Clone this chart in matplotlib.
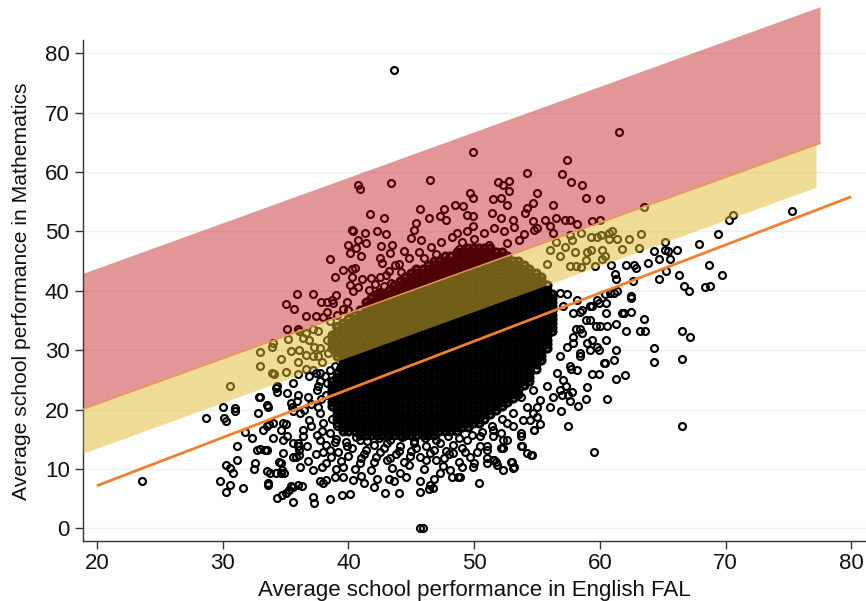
import matplotlib
matplotlib.use("Agg")
import matplotlib.pyplot as plt

# ---------------- data ----------------
x_ticks = [20, 30, 40, 50, 60, 70, 80]
y_ticks = [0, 10, 20, 30, 40, 50, 60, 70, 80]
x_label = "Average school performance in English FAL"
y_label = "Average school performance in Mathematics"

fit_x = [20, 80]
fit_y = [7.19, 55.85]

red_x = [18.886, 77.51]
red_top = [42.95, 87.84]
red_bottom = [20.1, 64.84]
yellow_x = [18.886, 77.19]
yellow_top = [20.1, 64.6]
yellow_bottom = [12.65, 57.43]

# dense (saturated, heavily over-plotted) core of the cloud: y value -> x values
core_rows = {
    15.7: "40.9 41.4 41.8 42.3 42.7 43.2 43.6 44.1 44.5 45.0 45.4 45.9 46.3 46.8",
    16.4: "39.6 40.0 40.5 40.9 41.4 41.8 42.3 42.7 43.2 43.6 44.1 44.5 45.0 45.4 45.9 46.3 46.8 47.2 47.7 48.1 48.6",
    17.1: "39.6 40.0 40.5 40.9 41.4 41.8 42.3 42.7 43.2 43.6 44.1 44.5 45.0 45.4 45.9 46.3 46.8 47.2 47.7 48.1 48.6 49.0 49.5",
    17.8: "39.1 39.6 40.0 40.5 40.9 41.4 41.8 42.3 42.7 43.2 43.6 44.1 44.5 45.0 45.4 45.9 46.3 46.8 47.2 47.7 48.1 48.6 49.0 49.5 49.9 50.4",
    18.5: "39.1 39.6 40.0 40.5 40.9 41.4 41.8 42.3 42.7 43.2 43.6 44.1 44.5 45.0 45.4 45.9 46.3 46.8 47.2 47.7 48.1 48.6 49.0 49.5 49.9 50.4 50.8",
    19.2: "39.1 39.6 40.0 40.5 40.9 41.4 41.8 42.3 42.7 43.2 43.6 44.1 44.5 45.0 45.4 45.9 46.3 46.8 47.2 47.7 48.1 48.6 49.0 49.5 49.9 50.4 50.8 51.3",
    19.9: "39.1 39.6 40.0 40.5 40.9 41.4 41.8 42.3 42.7 43.2 43.6 44.1 44.5 45.0 45.4 45.9 46.3 46.8 47.2 47.7 48.1 48.6 49.0 49.5 49.9 50.4 50.8 51.3 51.7",
    20.6: "38.7 39.1 39.6 40.0 40.5 40.9 41.4 41.8 42.3 42.7 43.2 43.6 44.1 44.5 45.0 45.4 45.9 46.3 46.8 47.2 47.7 48.1 48.6 49.0 49.5 49.9 50.4 50.8 51.3 51.7 52.2",
    21.3: "38.7 39.1 39.6 40.0 40.5 40.9 41.4 41.8 42.3 42.7 43.2 43.6 44.1 44.5 45.0 45.4 45.9 46.3 46.8 47.2 47.7 48.1 48.6 49.0 49.5 49.9 50.4 50.8 51.3 51.7 52.2 52.6",
    22.0: "38.7 39.1 39.6 40.0 40.5 40.9 41.4 41.8 42.3 42.7 43.2 43.6 44.1 44.5 45.0 45.4 45.9 46.3 46.8 47.2 47.7 48.1 48.6 49.0 49.5 49.9 50.4 50.8 51.3 51.7 52.2 52.6 53.1",
    22.7: "38.7 39.1 39.6 40.0 40.5 40.9 41.4 41.8 42.3 42.7 43.2 43.6 44.1 44.5 45.0 45.4 45.9 46.3 46.8 47.2 47.7 48.1 48.6 49.0 49.5 49.9 50.4 50.8 51.3 51.7 52.2 52.6 53.1 53.5",
    23.4: "38.7 39.1 39.6 40.0 40.5 40.9 41.4 41.8 42.3 42.7 43.2 43.6 44.1 44.5 45.0 45.4 45.9 46.3 46.8 47.2 47.7 48.1 48.6 49.0 49.5 49.9 50.4 50.8 51.3 51.7 52.2 52.6 53.1 53.5",
    24.1: "38.7 39.1 39.6 40.0 40.5 40.9 41.4 41.8 42.3 42.7 43.2 43.6 44.1 44.5 45.0 45.4 45.9 46.3 46.8 47.2 47.7 48.1 48.6 49.0 49.5 49.9 50.4 50.8 51.3 51.7 52.2 52.6 53.1 53.5 54.0",
    24.8: "38.7 39.1 39.6 40.0 40.5 40.9 41.4 41.8 42.3 42.7 43.2 43.6 44.1 44.5 45.0 45.4 45.9 46.3 46.8 47.2 47.7 48.1 48.6 49.0 49.5 49.9 50.4 50.8 51.3 51.7 52.2 52.6 53.1 53.5 54.0 54.4",
    25.5: "39.1 39.6 40.0 40.5 40.9 41.4 41.8 42.3 42.7 43.2 43.6 44.1 44.5 45.0 45.4 45.9 46.3 46.8 47.2 47.7 48.1 48.6 49.0 49.5 49.9 50.4 50.8 51.3 51.7 52.2 52.6 53.1 53.5 54.0 54.4",
    26.2: "39.1 39.6 40.0 40.5 40.9 41.4 41.8 42.3 42.7 43.2 43.6 44.1 44.5 45.0 45.4 45.9 46.3 46.8 47.2 47.7 48.1 48.6 49.0 49.5 49.9 50.4 50.8 51.3 51.7 52.2 52.6 53.1 53.5 54.0 54.4",
    26.9: "39.6 40.0 40.5 40.9 41.4 41.8 42.3 42.7 43.2 43.6 44.1 44.5 45.0 45.4 45.9 46.3 46.8 47.2 47.7 48.1 48.6 49.0 49.5 49.9 50.4 50.8 51.3 51.7 52.2 52.6 53.1 53.5 54.0 54.4 54.9",
    27.6: "39.6 40.0 40.5 40.9 41.4 41.8 42.3 42.7 43.2 43.6 44.1 44.5 45.0 45.4 45.9 46.3 46.8 47.2 47.7 48.1 48.6 49.0 49.5 49.9 50.4 50.8 51.3 51.7 52.2 52.6 53.1 53.5 54.0 54.4 54.9",
    28.3: "39.6 40.0 40.5 40.9 41.4 41.8 42.3 42.7 43.2 43.6 44.1 44.5 45.0 45.4 45.9 46.3 46.8 47.2 47.7 48.1 48.6 49.0 49.5 49.9 50.4 50.8 51.3 51.7 52.2 52.6 53.1 53.5 54.0 54.4 54.9 55.3",
    29.0: "39.1 39.6 40.0 40.5 40.9 41.4 41.8 42.3 42.7 43.2 43.6 44.1 44.5 45.0 45.4 45.9 46.3 46.8 47.2 47.7 48.1 48.6 49.0 49.5 49.9 50.4 50.8 51.3 51.7 52.2 52.6 53.1 53.5 54.0 54.4 54.9 55.3",
    29.7: "39.1 39.6 40.0 40.5 40.9 41.4 41.8 42.3 42.7 43.2 43.6 44.1 44.5 45.0 45.4 45.9 46.3 46.8 47.2 47.7 48.1 48.6 49.0 49.5 49.9 50.4 50.8 51.3 51.7 52.2 52.6 53.1 53.5 54.0 54.4 54.9 55.3",
    30.4: "38.7 39.1 39.6 40.0 40.5 40.9 41.4 41.8 42.3 42.7 43.2 43.6 44.1 44.5 45.0 45.4 45.9 46.3 46.8 47.2 47.7 48.1 48.6 49.0 49.5 49.9 50.4 50.8 51.3 51.7 52.2 52.6 53.1 53.5 54.0 54.4 54.9 55.3 55.8",
    31.1: "38.7 39.1 39.6 40.0 40.5 40.9 41.4 41.8 42.3 42.7 43.2 43.6 44.1 44.5 45.0 45.4 45.9 46.3 46.8 47.2 47.7 48.1 48.6 49.0 49.5 49.9 50.4 50.8 51.3 51.7 52.2 52.6 53.1 53.5 54.0 54.4 54.9 55.3 55.8",
    31.8: "38.7 39.1 39.6 40.0 40.5 40.9 41.4 41.8 42.3 42.7 43.2 43.6 44.1 44.5 45.0 45.4 45.9 46.3 46.8 47.2 47.7 48.1 48.6 49.0 49.5 49.9 50.4 50.8 51.3 51.7 52.2 52.6 53.1 53.5 54.0 54.4 54.9 55.3 55.8",
    32.5: "38.7 39.1 39.6 40.0 40.5 40.9 41.4 41.8 42.3 42.7 43.2 43.6 44.1 44.5 45.0 45.4 45.9 46.3 46.8 47.2 47.7 48.1 48.6 49.0 49.5 49.9 50.4 50.8 51.3 51.7 52.2 52.6 53.1 53.5 54.0 54.4 54.9 55.3 55.8",
    33.2: "39.1 39.6 40.0 40.5 40.9 41.4 41.8 42.3 42.7 43.2 43.6 44.1 44.5 45.0 45.4 45.9 46.3 46.8 47.2 47.7 48.1 48.6 49.0 49.5 49.9 50.4 50.8 51.3 51.7 52.2 52.6 53.1 53.5 54.0 54.4 54.9 55.3 55.8 56.2",
    33.9: "39.1 39.6 40.0 40.5 40.9 41.4 41.8 42.3 42.7 43.2 43.6 44.1 44.5 45.0 45.4 45.9 46.3 46.8 47.2 47.7 48.1 48.6 49.0 49.5 49.9 50.4 50.8 51.3 51.7 52.2 52.6 53.1 53.5 54.0 54.4 54.9 55.3 55.8 56.2",
    34.6: "39.6 40.0 40.5 40.9 41.4 41.8 42.3 42.7 43.2 43.6 44.1 44.5 45.0 45.4 45.9 46.3 46.8 47.2 47.7 48.1 48.6 49.0 49.5 49.9 50.4 50.8 51.3 51.7 52.2 52.6 53.1 53.5 54.0 54.4 54.9 55.3 55.8 56.2",
    35.3: "40.0 40.5 40.9 41.4 41.8 42.3 42.7 43.2 43.6 44.1 44.5 45.0 45.4 45.9 46.3 46.8 47.2 47.7 48.1 48.6 49.0 49.5 49.9 50.4 50.8 51.3 51.7 52.2 52.6 53.1 53.5 54.0 54.4 54.9 55.3 55.8 56.2",
    36.0: "40.5 40.9 41.4 41.8 42.3 42.7 43.2 43.6 44.1 44.5 45.0 45.4 45.9 46.3 46.8 47.2 47.7 48.1 48.6 49.0 49.5 49.9 50.4 50.8 51.3 51.7 52.2 52.6 53.1 53.5 54.0 54.4 54.9 55.3 55.8 56.2",
    36.7: "40.9 41.4 41.8 42.3 42.7 43.2 43.6 44.1 44.5 45.0 45.4 45.9 46.3 46.8 47.2 47.7 48.1 48.6 49.0 49.5 49.9 50.4 50.8 51.3 51.7 52.2 52.6 53.1 53.5 54.0 54.4 54.9 55.3 55.8 56.2",
    37.4: "41.4 41.8 42.3 42.7 43.2 43.6 44.1 44.5 45.0 45.4 45.9 46.3 46.8 47.2 47.7 48.1 48.6 49.0 49.5 49.9 50.4 50.8 51.3 51.7 52.2 52.6 53.1 53.5 54.0 54.4 54.9 55.3 55.8 56.2",
    38.1: "41.4 41.8 42.3 42.7 43.2 43.6 44.1 44.5 45.0 45.4 45.9 46.3 46.8 47.2 47.7 48.1 48.6 49.0 49.5 49.9 50.4 50.8 51.3 51.7 52.2 52.6 53.1 53.5 54.0 54.4 54.9 55.3 55.8 56.2",
    38.8: "41.8 42.3 42.7 43.2 43.6 44.1 44.5 45.0 45.4 45.9 46.3 46.8 47.2 47.7 48.1 48.6 49.0 49.5 49.9 50.4 50.8 51.3 51.7 52.2 52.6 53.1 53.5 54.0 54.4 54.9 55.3 55.8 56.2",
    39.5: "42.3 42.7 43.2 43.6 44.1 44.5 45.0 45.4 45.9 46.3 46.8 47.2 47.7 48.1 48.6 49.0 49.5 49.9 50.4 50.8 51.3 51.7 52.2 52.6 53.1 53.5 54.0 54.4 54.9 55.3 55.8 56.2",
    40.2: "43.2 43.6 44.1 44.5 45.0 45.4 45.9 46.3 46.8 47.2 47.7 48.1 48.6 49.0 49.5 49.9 50.4 50.8 51.3 51.7 52.2 52.6 53.1 53.5 54.0 54.4 54.9 55.3 55.8",
    40.9: "43.6 44.1 44.5 45.0 45.4 45.9 46.3 46.8 47.2 47.7 48.1 48.6 49.0 49.5 49.9 50.4 50.8 51.3 51.7 52.2 52.6 53.1 53.5 54.0 54.4 54.9 55.3 55.8",
    41.6: "44.1 44.5 45.0 45.4 45.9 46.3 46.8 47.2 47.7 48.1 48.6 49.0 49.5 49.9 50.4 50.8 51.3 51.7 52.2 52.6 53.1 53.5 54.0 54.4 54.9 55.3",
    42.3: "44.5 45.0 45.4 45.9 46.3 46.8 47.2 47.7 48.1 48.6 49.0 49.5 49.9 50.4 50.8 51.3 51.7 52.2 52.6 53.1 53.5 54.0 54.4 54.9 55.3",
    43.0: "45.0 45.4 45.9 46.3 46.8 47.2 47.7 48.1 48.6 49.0 49.5 49.9 50.4 50.8 51.3 51.7 52.2 52.6 53.1 53.5 54.0 54.4 54.9",
    43.7: "45.4 45.9 46.3 46.8 47.2 47.7 48.1 48.6 49.0 49.5 49.9 50.4 50.8 51.3 51.7 52.2 52.6 53.1 53.5 54.0 54.4",
    44.4: "46.3 46.8 47.2 47.7 48.1 48.6 49.0 49.5 49.9 50.4 50.8 51.3 51.7 52.2 52.6 53.1 53.5 54.0",
    45.1: "46.8 47.2 47.7 48.1 48.6 49.0 49.5 49.9 50.4 50.8 51.3 51.7 52.2 52.6 53.1 53.5",
    45.8: "47.7 48.1 48.6 49.0 49.5 49.9 50.4 50.8 51.3 51.7 52.2 52.6",
    46.5: "48.6 49.0 49.5 49.9 50.4 50.8 51.3 51.7 52.2",
    47.2: "49.5 49.9 50.4 50.8 51.3",
}

# scattered schools outside the saturated core
low_left = [
    (23.6, 7.9), (28.7, 18.6), (30.05, 20.5), (30.1, 18.6), (30.3, 18.0), (31.0, 19.8), (29.8, 7.9),
    (30.3, 10.6), (30.6, 10.1), (30.8, 9.3), (30.3, 6.2), (30.6, 7.3), (31.6, 6.8), (31.1, 11.6),
    (31.1, 13.9), (31.8, 16.3), (32.3, 15.2), (32.6, 11.0), (32.5, 10.0), (32.8, 19.4), (32.9, 22.1),
    (32.7, 13.2), (33.0, 13.3), (33.4, 13.2), (33.5, 9.6), (33.6, 7.3), (33.6, 20.4), (33.5, 17.2),
    (33.7, 17.5), (34.0, 15.2), (34.2, 23.6), (34.3, 22.9), (34.2, 9.3), (34.6, 9.3), (34.3, 5.1),
    (34.7, 5.6), (35.0, 5.9), (34.5, 11.1), (35.0, 17.5), (34.8, 14.9), (35.3, 6.5), (35.6, 7.0),
    (35.6, 4.5), (35.6, 24.5), (35.5, 20.5), (35.6, 19.8), (35.6, 12.1), (36.0, 13.8), (36.1, 12.3),
    (36.0, 7.3), (33.6, 7.6), (34.6, 11.0), (34.9, 9.4), (35.4, 7.2), (36.3, 7.2), (36.0, 14.3),
    (36.1, 13.2), (35.8, 12.1), (34.8, 17.7), (33.0, 22.2), (34.3, 23.9), (35.1, 22.8), (36.9, 25.6),
    (37.4, 26.2), (37.6, 23.9), (31.0, 20.3), (33.5, 20.8), (35.4, 21.1), (35.9, 21.4), (33.8, 9.3),
    (34.7, 9.8), (36.15, 10.4), (37.2, 9.8), (34.6, 16.6), (35.1, 15.5), (34.0, 17.7), (33.2, 16.6),
    (33.5, 13.2), (34.8, 12.7), (35.6, 14.4), (36.7, 13.8), (36.4, 16.6), (36.9, 18.3), (36.15, 19.4),
    (37.7, 19.4), (36.8, 22.2), (37.5, 23.3), (38.3, 24.5), (37.7, 26.2), (37.2, 26.7), (38.5, 26.7),
    (36.5, 20.0), (37.0, 21.0), (36.0, 22.5), (37.8, 21.8), (37.0, 17.2), (38.0, 17.8), (36.4, 15.5),
    (37.5, 15.8), (38.2, 14.0), (37.4, 12.5), (38.6, 12.0), (39.2, 12.8), (36.8, 11.3), (37.9, 10.3),
    (39.0, 10.0), (38.2, 11.0), (37.7, 14.9), (38.5, 16.0), (39.1, 17.2), (38.5, 13.2), (38.9, 27.3),
    (39.3, 27.0),
]

bottom = [
    (37.3, 4.2), (37.2, 5.3), (38.5, 5.0), (39.5, 5.6), (40.1, 5.8), (42.9, 5.9), (44.0, 5.9),
    (45.7, 6.2), (46.4, 6.6), (46.7, 6.8), (50.4, 7.6), (48.7, 8.7), (48.2, 8.7), (53.2, 10.4),
    (52.9, 11.1), (54.2, 12.7), (54.6, 12.4), (53.7, 13.8), (52.3, 13.5), (54.8, 16.6), (45.7, 0.0),
    (45.9, 0.0), (37.7, 7.9), (38.0, 7.6), (38.2, 8.2), (38.9, 8.7), (39.6, 8.7), (40.4, 8.2),
    (41.2, 7.6), (42.0, 7.0), (42.3, 8.4), (43.2, 8.4), (43.6, 7.9), (44.1, 9.3), (44.6, 8.7),
    (45.7, 7.9), (46.5, 7.3), (46.8, 8.4), (47.3, 9.3), (48.1, 9.8), (48.9, 8.7), (49.9, 10.4),
    (51.0, 11.0), (51.5, 11.5), (51.8, 10.7), (52.3, 9.8), (53.8, 13.8), (39.6, 10.4), (40.9, 11.0),
    (42.0, 11.2), (43.05, 11.5), (44.4, 11.2), (45.7, 12.1), (47.0, 11.5), (48.35, 12.7), (49.7, 12.1),
    (51.0, 13.2), (52.3, 14.9), (53.7, 16.0), (54.45, 18.3), (55.0, 20.5), (39.85, 13.8), (40.9, 14.9),
    (42.0, 14.1), (43.05, 14.4), (44.1, 13.8), (45.2, 14.4), (46.2, 13.8), (47.3, 14.4), (48.35, 14.1),
    (49.4, 14.9), (50.5, 15.5), (51.5, 16.6), (52.6, 17.7), (53.1, 19.4), (53.7, 22.2), (54.7, 23.3),
    (40.0, 12.2), (41.2, 12.6), (42.5, 12.8), (43.8, 12.5), (45.0, 13.0), (46.5, 12.7), (47.8, 13.0),
    (49.0, 13.5), (50.2, 12.8), (40.5, 10.0), (41.8, 9.8), (43.5, 10.2), (44.8, 10.6), (46.0, 10.0),
    (47.5, 10.5), (48.8, 11.2), (50.0, 11.0), (41.0, 8.8), (53.0, 11.1), (53.1, 10.2), (52.1, 13.6),
    (51.6, 11.5), (51.7, 11.1), (51.0, 11.8), (54.5, 12.4), (55.2, 17.6), (54.8, 16.5),
    (39.0, 15.0), (39.8, 14.6), (40.6, 15.4), (41.5, 14.8), (42.4, 15.3), (43.3, 14.9), (44.3, 15.4),
    (45.2, 14.8), (46.1, 15.3), (47.0, 14.9), (47.9, 15.6), (48.8, 15.2), (49.8, 15.8), (50.6, 16.3),
    (51.4, 17.3), (52.2, 18.5), (40.3, 13.6), (41.4, 13.2), (42.8, 13.5), (44.0, 13.0), (45.4, 13.6),
    (46.8, 13.2), (48.0, 12.6), (49.3, 12.9), (50.5, 13.8), (41.0, 11.8), (42.2, 12.0), (43.3, 11.9),
    (44.9, 12.2), (46.2, 11.6), (47.6, 11.9), (49.0, 10.3), (39.4, 11.4), (38.0, 12.8), (38.9, 14.6),
    (37.9, 16.4), (38.7, 18.4), (37.6, 20.4), (38.2, 22.4), (37.7, 24.8), (38.1, 25.7),
]

right = [
    (62.5, 38.8), (62.5, 36.4), (61.8, 36.3), (63.5, 35.3), (63.2, 33.3), (63.6, 33.3), (62.1, 33.2),
    (61.3, 30.1), (61.1, 28.3), (60.3, 27.8), (61.3, 25.2), (62.0, 25.8), (60.6, 21.8), (59.0, 23.8),
    (58.9, 21.8), (58.3, 20.6), (56.9, 19.8), (57.5, 17.3), (59.5, 12.8), (59.4, 26.0), (59.9, 26.0),
    (57.8, 22.9), (57.5, 22.5), (57.0, 22.5), (66.5, 33.3), (67.2, 32.2), (64.3, 30.3), (64.3, 28.1),
    (66.5, 28.5), (66.5, 17.3), (57.6, 21.4), (57.3, 24.0), (58.2, 26.6), (57.7, 26.8), (60.4, 27.9),
    (61.9, 36.2), (61.3, 34.5), (60.6, 34.0), (75.3, 53.4), (70.6, 52.8), (70.3, 51.9), (69.4, 49.6),
    (67.9, 47.9), (68.7, 44.3), (69.7, 42.7), (66.3, 42.7), (66.7, 40.8), (67.1, 39.9), (68.4, 40.6),
    (68.8, 40.8), (65.2, 48.3), (65.2, 46.9), (65.4, 46.7), (65.6, 45.3), (66.1, 46.9), (64.3, 46.7),
    (64.7, 45.3), (63.8, 44.7), (65.3, 43.3), (64.7, 42.0), (62.6, 41.6), (62.1, 44.4), (62.7, 44.4),
    (62.9, 43.9), (60.9, 44.4), (61.2, 42.8), (61.3, 42.0), (62.5, 39.1), (61.4, 39.9), (60.8, 39.7),
    (56.8, 39.6), (57.4, 39.4), (58.2, 38.5), (57.1, 37.4), (58.4, 36.5), (59.2, 37.4), (59.75, 38.5),
    (60.5, 38.0), (60.4, 39.4), (61.1, 39.6), (59.2, 35.1), (60.0, 34.0), (58.4, 33.5), (57.9, 32.3),
    (58.95, 31.2), (59.75, 30.6), (57.4, 30.6), (56.8, 29.0), (58.4, 29.0), (57.6, 27.3), (56.6, 26.2),
    (55.8, 23.9), (56.8, 23.3), (55.2, 21.7), (56.0, 20.5), (54.7, 19.4), (53.9, 18.3), (53.1, 17.2),
    (52.1, 16.0), (52.6, 14.9), (53.7, 15.5), (55.0, 18.8), (54.2, 20.5), (56.3, 22.2), (57.1, 25.0),
    (51.0, 13.8), (51.5, 15.5), (57.85, 36.3), (58.6, 36.8), (59.4, 37.4), (59.96, 38.0), (60.5, 36.3),
    (58.9, 35.1), (58.1, 33.5), (58.6, 32.9), (59.4, 31.8), (57.85, 31.2), (58.4, 29.5), (59.2, 30.1),
    (59.96, 30.1), (60.5, 31.8), (59.7, 34.0), (63.5, 54.1), (63.3, 49.6), (63.1, 47.2), (43.65, 77.1),
]

yellow_zone = [
    (30.6, 24.0), (33.0, 27.3), (33.0, 29.7), (33.9, 26.2), (34.0, 31.2), (35.0, 26.4), (36.0, 28.0),
    (36.1, 33.2), (34.1, 26.0), (36.0, 26.0), (33.9, 30.5), (36.6, 29.2), (37.2, 29.1), (37.6, 29.0),
    (36.6, 26.8), (37.3, 30.6), (36.1, 30.1), (36.4, 32.1), (36.9, 31.8), (36.6, 32.9), (37.2, 33.5),
    (37.6, 33.2), (38.3, 31.8), (37.75, 30.4), (38.7, 30.9), (38.5, 34.9), (39.0, 34.0), (39.5, 34.6),
    (38.9, 32.6), (39.3, 30.1), (37.9, 28.0), (38.4, 29.5), (38.0, 35.6), (39.1, 36.0), (40.0, 36.8),
    (34.6, 28.5), (35.4, 29.8), (35.2, 31.9),
    (57.6, 49.4), (57.8, 48.6), (58.5, 49.7), (59.3, 49.1), (59.8, 49.0), (60.1, 49.4), (60.75, 49.7),
    (61.0, 50.0), (61.4, 48.7), (60.75, 48.7), (58.0, 46.6), (59.0, 46.6), (59.3, 46.8), (60.2, 46.9),
    (60.4, 45.8), (58.9, 45.2), (57.6, 44.1), (58.1, 44.1), (58.5, 44.0), (59.6, 44.1), (60.2, 45.4),
    (56.8, 45.8), (56.0, 46.9), (56.5, 48.2), (55.8, 44.5), (57.2, 47.4), (61.8, 47.0), (62.3, 48.8),
]

red_zone = [
    (61.5, 66.8), (49.9, 63.3), (57.4, 62.1), (54.2, 59.8), (57.0, 59.6), (57.7, 58.4), (58.6, 57.8),
    (40.8, 57.9), (40.9, 57.1), (43.4, 58.1), (46.5, 58.6), (51.9, 58.3), (52.3, 57.8), (52.8, 58.5),
    (52.8, 56.8), (55.0, 56.4), (49.7, 56.5), (49.9, 55.7), (51.5, 55.5), (52.1, 55.7), (58.9, 55.7),
    (60.0, 55.5), (57.6, 52.0), (58.2, 51.3), (59.4, 51.8), (60.0, 52.0), (54.7, 54.8), (56.3, 54.5),
    (41.7, 53.0), (42.8, 52.3), (40.3, 50.2), (41.3, 49.8), (40.8, 48.6), (40.0, 47.8), (41.4, 48.1),
    (40.6, 47.2), (40.1, 46.4), (41.0, 45.8), (38.5, 45.4), (38.9, 42.4), (39.6, 43.5), (40.3, 43.7),
    (40.5, 43.9), (37.2, 39.5), (45.7, 53.8), (46.4, 52.3), (45.4, 51.4), (45.2, 50.3), (45.0, 48.9),
    (45.8, 48.6), (42.6, 47.5), (43.3, 46.3), (42.5, 45.5), (44.4, 46.7), (47.6, 53.7), (47.3, 52.6),
    (47.8, 52.0), (48.5, 54.5), (49.1, 54.3), (49.4, 52.8), (49.9, 52.6), (49.9, 51.0), (49.4, 50.0),
    (48.6, 49.8), (52.6, 54.5), (51.4, 53.1), (52.1, 52.3), (53.1, 52.0), (54.05, 53.1), (54.2, 54.0),
    (54.7, 51.7), (56.0, 50.9), (56.5, 52.3), (57.2, 52.0), (55.0, 50.6), (56.3, 49.8), (40.4, 50.0),
    (42.3, 50.0), (43.0, 49.6), (43.5, 47.8), (40.3, 42.4), (40.1, 41.0), (40.4, 39.9), (35.9, 39.5),
    (35.0, 37.7), (35.7, 37.0), (37.8, 38.1), (38.3, 38.1), (38.7, 38.5), (38.8, 38.0), (39.9, 38.2),
    (39.6, 37.0), (38.3, 36.4), (36.6, 35.8), (37.4, 35.8), (35.1, 33.6), (36.0, 33.5), (41.1, 42.0),
    (41.8, 42.2), (42.5, 42.4), (42.1, 41.2), (42.8, 40.8), (43.4, 41.3), (42.7, 44.7), (43.2, 43.3),
    (43.7, 44.4), (44.0, 44.5), (44.8, 45.6), (45.6, 46.6), (46.6, 47.4), (47.4, 48.3), (48.2, 49.0),
    (49.0, 48.2), (50.0, 48.8), (50.8, 49.8), (51.6, 50.6), (52.4, 50.0), (53.2, 50.8), (54.0, 49.6),
    (54.8, 50.2), (55.6, 52.0), (53.6, 48.6), (52.6, 48.0), (51.2, 47.8), (46.0, 45.6), (47.0, 46.2),
    (43.0, 42.6), (44.2, 43.2), (48.8, 47.0), (41.6, 40.2), (42.4, 39.8), (39.0, 39.3), (40.8, 40.6),
]

# ---------------- figure ----------------
plt.rcParams['font.family'] = ['Liberation Sans', 'DejaVu Sans']

fig = plt.figure(figsize=(8.66, 6.01), dpi=100)
ax = fig.add_axes([83 / 866, 1 - 540.7 / 601, (866 - 83) / 866, 540.7 / 601])
ax.set_xlim(18.886, 81.17)
ax.set_ylim(-2.071, 88.97)

core_x, core_y = [], []
for yv, row in core_rows.items():
    for v in row.split():
        core_x.append(float(v))
        core_y.append(yv)
pts_x, pts_y = [], []
for group in (low_left, bottom, right, yellow_zone, red_zone):
    for a, b in group:
        pts_x.append(a)
        pts_y.append(b)

# saturated core: heavily over-plotted circles (drawn a little heavier so it reads as solid)
ax.plot(core_x, core_y, linestyle='none', marker='o', ms=5.0, mfc='none',
        mec='black', mew=2.3, zorder=2)
ax.plot(pts_x, pts_y, linestyle='none', marker='o', ms=5.0, mfc='none',
        mec='black', mew=1.55, zorder=2)

ax.fill_between(red_x, red_bottom, red_top, color=(190 / 255, 5 / 255, 10 / 255),
                alpha=0.42, linewidth=0, zorder=3)
ax.fill_between(yellow_x, yellow_bottom, yellow_top, color=(224 / 255, 188 / 255, 48 / 255),
                alpha=0.5, linewidth=0, zorder=3)
ax.plot(red_x, red_bottom, color='#e99a50', lw=1.1, zorder=4)
ax.plot(fit_x, fit_y, color='#ef8030', lw=2.0, zorder=5, solid_capstyle='butt')

ax.set_xticks(x_ticks)
ax.set_yticks(y_ticks)
ax.grid(axis='y', color='#eaf2f3', lw=1.0)
ax.set_axisbelow(True)

for s in ('top', 'right'):
    ax.spines[s].set_visible(False)
for s in ('left', 'bottom'):
    ax.spines[s].set_color('#333333')
    ax.spines[s].set_linewidth(1.0)
ax.spines['left'].set_bounds(-2.071, 82.24)

ax.tick_params(axis='both', direction='out', length=5.8, width=1.0, color='#333333',
               labelsize=16, labelcolor='#111111')
ax.tick_params(axis='y', pad=3.8)
ax.tick_params(axis='x', pad=3.0)

fig.text(474 / 866, 1 - 590.5 / 601, x_label, ha='center', va='center', fontsize=16.0, color='#111111')
fig.text(22 / 866, 1 - 291 / 601, y_label, ha='center', va='center', rotation=90,
         fontsize=15.2, color='#111111')

fig.savefig('out.png', dpi=100)
